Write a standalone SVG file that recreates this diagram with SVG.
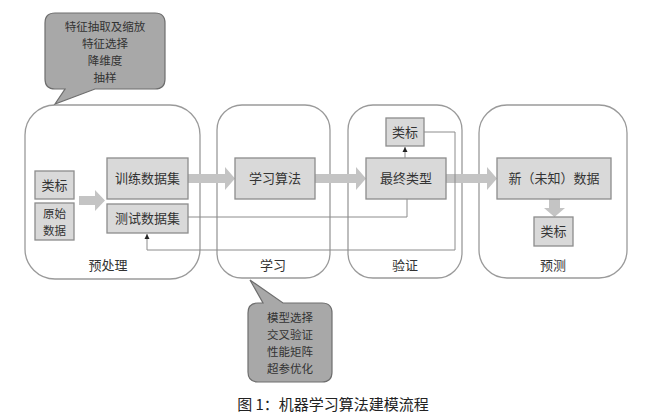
<svg xmlns="http://www.w3.org/2000/svg" width="650" height="417" viewBox="0 0 650 417">
<defs>
<style>
text{font-family:"Noto Sans CJK SC","Noto Sans",sans-serif;font-size:13px;fill:#333;text-anchor:middle}
.sm{font-size:11.5px}
.stage{fill:#fff;stroke:#9a9a9a;stroke-width:1.3}
.box{fill:#d9d9d9;stroke:#8c8c8c;stroke-width:1.3}
.call{fill:#a8a8a8;stroke:#6e6e6e;stroke-width:1.2}
.fat{fill:#c4c4c4;stroke:none}
.thin{fill:none;stroke:#8c8c8c;stroke-width:1}
</style>
<marker id="ah" markerWidth="6" markerHeight="6" refX="5" refY="3" orient="auto" markerUnits="userSpaceOnUse">
<path d="M0,0.5 L5,3 L0,5.5 Z" fill="#222"/>
</marker>
</defs>
<rect width="650" height="417" fill="#fff"/>

<g id="stage-preprocess">
<rect class="stage" x="25" y="105" width="175" height="174" rx="30"/>
<text x="108" y="270">预处理</text>
</g>
<g id="stage-learn">
<rect class="stage" x="217" y="105" width="113" height="173" rx="25"/>
<text x="273" y="270">学习</text>
</g>
<g id="stage-verify">
<rect class="stage" x="348" y="105" width="114" height="173" rx="25"/>
<text x="405" y="270">验证</text>
</g>
<g id="stage-predict">
<rect class="stage" x="479" y="105" width="148" height="173" rx="28"/>
<text x="553" y="270">预测</text>
</g>

<g id="callout-top">
<path class="call" d="M55,13 H155 Q165,13 165,23 V79 Q165,89 155,89 H95 L55,104 L65,89 H55 Q45,89 45,79 V23 Q45,13 55,13 Z"/>
<text class="sm" x="105" y="31">特征抽取及缩放</text>
<text class="sm" x="105" y="48">特征选择</text>
<text class="sm" x="105" y="65">降维度</text>
<text class="sm" x="105" y="82">抽样</text>
</g>

<g id="callout-bottom">
<path class="call" d="M258,303 H263 L250,280 L283,303 H322 Q332,303 332,313 V372 Q332,382 322,382 H258 Q248,382 248,372 V313 Q248,303 258,303 Z"/>
<text class="sm" x="290" y="322">模型选择</text>
<text class="sm" x="290" y="339">交叉验证</text>
<text class="sm" x="290" y="356">性能矩阵</text>
<text class="sm" x="290" y="373">超参优化</text>
</g>

<g id="connectors">
<path class="fat" d="M79,196 H95 V190 L105,200.5 L95,211 V205 H79 Z"/>
<path class="fat" d="M188,174 H225 V167 L235,178.5 L225,190 V183 H188 Z"/>
<path class="fat" d="M315,174 H356 V167 L366,178.5 L356,190 V183 H315 Z"/>
<path class="fat" d="M446,174 H487 V167 L497,178.5 L487,190 V183 H446 Z"/>
<path class="fat" d="M549,199 H560 V208 H565 L554.5,217 L544,208 H549 Z"/>
<line class="thin" x1="405" y1="158" x2="405" y2="147" marker-end="url(#ah)"/>
<polyline class="thin" points="188,217 407,217 407,199"/>
<polyline class="thin" points="424,132 455,132 455,250 147,250 147,234" marker-end="url(#ah)"/>
</g>

<g id="n-label1"><rect class="box" x="35" y="171" width="39" height="28"/><text x="54.5" y="190">类标</text></g>
<g id="n-raw"><rect class="box" x="35" y="203" width="39" height="37"/><text class="sm" x="54.5" y="218">原始</text><text class="sm" x="54.5" y="235">数据</text></g>
<g id="n-train"><rect class="box" x="107" y="158" width="81" height="41"/><text x="147.5" y="183">训练数据集</text></g>
<g id="n-test"><rect class="box" x="107" y="204" width="81" height="29"/><text x="147.5" y="223">测试数据集</text></g>
<g id="n-algo"><rect class="box" x="235" y="158" width="80" height="41"/><text x="275" y="183">学习算法</text></g>
<g id="n-final"><rect class="box" x="366" y="158" width="80" height="41"/><text x="406" y="183">最终类型</text></g>
<g id="n-label2"><rect class="box" x="386" y="118" width="38" height="28"/><text x="405" y="137">类标</text></g>
<g id="n-new"><rect class="box" x="497" y="158" width="114" height="41"/><text x="554" y="183">新（未知）数据</text></g>
<g id="n-label3"><rect class="box" x="534" y="217" width="39" height="29"/><text x="553.5" y="236">类标</text></g>

<text x="333" y="410" style="font-size:15px;fill:#222">图 1：机器学习算法建模流程</text>
</svg>
